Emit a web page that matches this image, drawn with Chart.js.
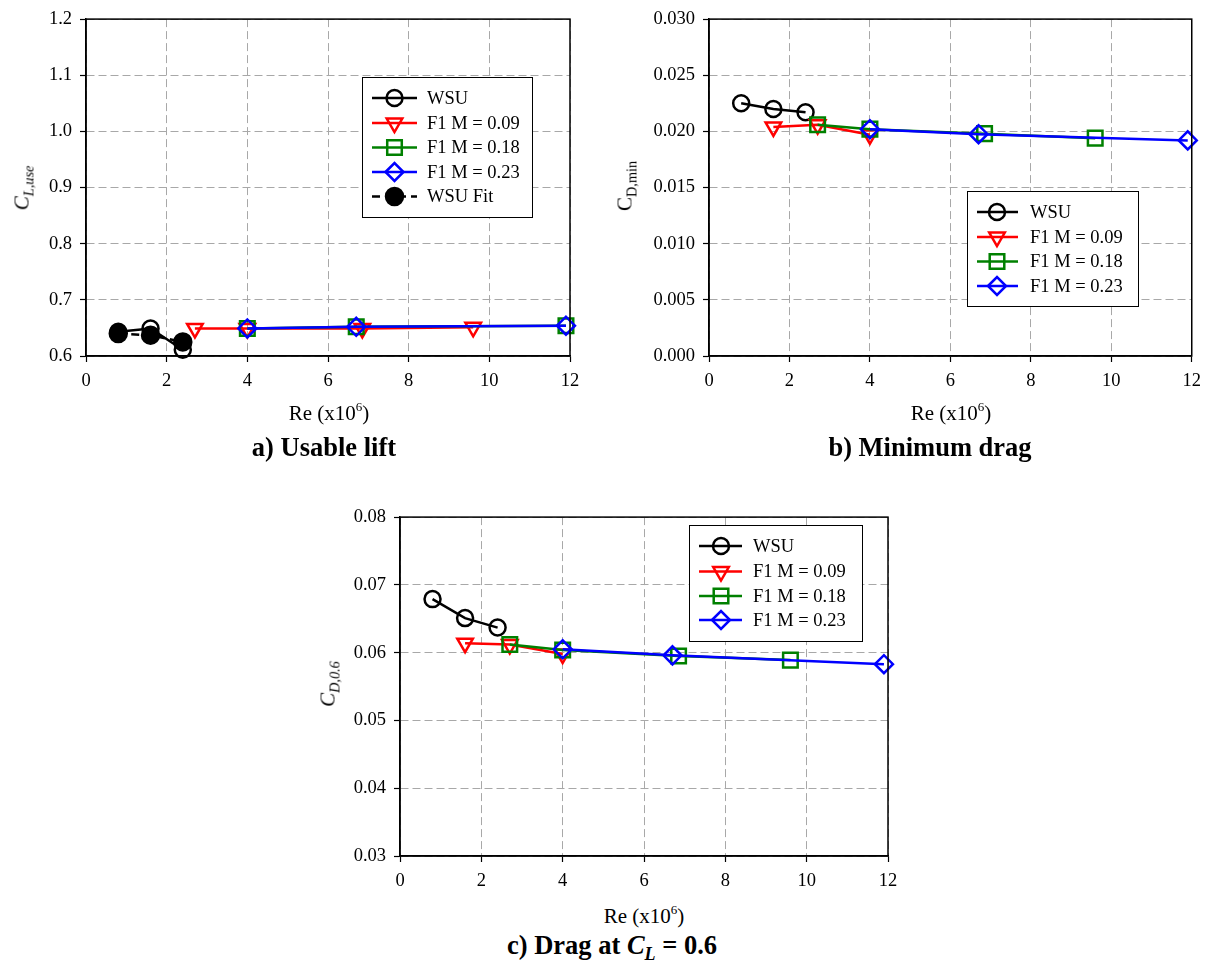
<!DOCTYPE html>
<html><head><meta charset="utf-8">
<script src="https://cdn.jsdelivr.net/npm/chart.js@4.4.0/dist/chart.umd.min.js"></script>
<style>
body{margin:0;background:#fff;}
#wrap{position:relative;width:1209px;height:962px;overflow:hidden;font-family:'Liberation Serif','Times New Roman',serif;color:#000;}
canvas{position:absolute;}
.t{position:absolute;transform:translate(-50%,-50%);white-space:nowrap;line-height:1;}
.xt{font-size:21px;}
.yt{font-size:21px;transform:translate(-50%,-50%) rotate(-90deg);}
.cap{font-size:26.5px;font-weight:bold;}
.t sup{font-size:0.62em;vertical-align:0.62em;line-height:0;}
.t sub{font-size:0.68em;vertical-align:-0.32em;line-height:0;}
</style></head>
<body><div id="wrap">
<canvas id="ca" width="600" height="400" style="left:0;top:0;width:600px;height:400px"></canvas>
<canvas id="cb" width="594" height="400" style="left:615px;top:0;width:594px;height:400px"></canvas>
<canvas id="cc" width="600" height="400" style="left:310px;top:498px;width:600px;height:400px"></canvas>

<div class="t xt" style="left:329px;top:413px">Re (x10<sup>6</sup>)</div>
<div class="t xt" style="left:951px;top:413px">Re (x10<sup>6</sup>)</div>
<div class="t xt" style="left:644px;top:916px">Re (x10<sup>6</sup>)</div>

<div class="t yt" style="left:22px;top:188px"><i>C<sub>L,use</sub></i></div>
<div class="t yt" style="left:625px;top:186px">C<sub>D,min</sub></div>
<div class="t yt" style="left:328px;top:684px"><i>C<sub>D,0.6</sub></i></div>

<div class="t cap" style="left:324px;top:447px">a) Usable lift</div>
<div class="t cap" style="left:930px;top:447px">b) Minimum drag</div>
<div class="t cap" style="left:612px;top:945px">c) Drag at <i>C<sub>L</sub></i> = 0.6</div>
</div>
<script>
// ---------- data ----------
const xTickVals = [0, 2, 4, 6, 8, 10, 12];
const xTickLabels = ['0', '2', '4', '6', '8', '10', '12'];
const seriesNames = ['WSU', 'F1 M = 0.09', 'F1 M = 0.18', 'F1 M = 0.23', 'WSU Fit'];

// a) Usable lift
const yTickValsA = [0.6, 0.7, 0.8, 0.9, 1.0, 1.1, 1.2];
const yTickLabelsA = ['0.6', '0.7', '0.8', '0.9', '1.0', '1.1', '1.2'];
const reWsuA = [0.8, 1.6, 2.4];
const clUseWsu = [0.643, 0.649, 0.611];
const reFitA = [0.8, 1.6, 2.4];
const clUseFit = [0.640, 0.637, 0.625];
const reM09A = [2.7, 4.0, 6.85, 9.6];
const clUseM09 = [0.649, 0.649, 0.649, 0.651];
const reM18A = [4.0, 6.7, 11.9];
const clUseM18 = [0.649, 0.652, 0.654];
const reM23A = [4.0, 6.7, 11.9];
const clUseM23 = [0.649, 0.652, 0.654];

// b) Minimum drag
const yTickValsB = [0, 0.005, 0.010, 0.015, 0.020, 0.025, 0.030];
const yTickLabelsB = ['0.000', '0.005', '0.010', '0.015', '0.020', '0.025', '0.030'];
const reWsuB = [0.8, 1.6, 2.4];
const cdMinWsu = [0.0225, 0.0220, 0.0217];
const reM09B = [1.6, 2.7, 4.0];
const cdMinM09 = [0.0204, 0.0206, 0.0197];
const reM18B = [2.7, 4.0, 6.85, 9.6];
const cdMinM18 = [0.0206, 0.0202, 0.0198, 0.0194];
const reM23B = [4.0, 6.7, 11.9];
const cdMinM23 = [0.0202, 0.01975, 0.0192];

// c) Drag at CL = 0.6
const yTickValsC = [0.03, 0.04, 0.05, 0.06, 0.07, 0.08];
const yTickLabelsC = ['0.03', '0.04', '0.05', '0.06', '0.07', '0.08'];
const reWsuC = [0.8, 1.6, 2.4];
const cd06Wsu = [0.0679, 0.0651, 0.0637];
const reM09C = [1.6, 2.7, 4.0];
const cd06M09 = [0.0614, 0.0612, 0.0598];
const reM18C = [2.7, 4.0, 6.85, 9.6];
const cd06M18 = [0.0612, 0.0604, 0.0595, 0.0589];
const reM23C = [4.0, 6.7, 11.9];
const cd06M23 = [0.0605, 0.0596, 0.0583];

// ---------- styles ----------
const ST = {
  wsu: {color: '#000000', shape: 'circle', r: 8, rot: 0, filled: false, dash: []},
  m09: {color: '#ff0000', shape: 'triangle', r: 9, rot: 180, filled: false, dash: []},
  m18: {color: '#008000', shape: 'rect', r: 10.3, rot: 0, filled: false, dash: []},
  m23: {color: '#0000ff', shape: 'rectRot', r: 9, rot: 0, filled: false, dash: []},
  fit: {color: '#000000', shape: 'circle', r: 8.5, rot: 0, filled: true, dash: [8, 5]}
};
const FONT = "'Liberation Serif','Times New Roman',serif";

function pts(xs, ys) { return xs.map((x, i) => ({x: x, y: ys[i]})); }
function ds(label, xs, ys, s) {
  return {
    label: label, data: pts(xs, ys), showLine: true, clip: false, tension: 0,
    borderColor: s.color, borderWidth: 2.5, borderDash: s.dash,
    backgroundColor: s.filled ? s.color : 'rgba(0,0,0,0)',
    pointStyle: s.shape, pointRadius: s.r, pointHoverRadius: s.r, pointRotation: s.rot,
    pointBorderColor: s.color, pointBorderWidth: 2.5,
    pointBackgroundColor: s.filled ? s.color : 'rgba(0,0,0,0)'
  };
}

function drawMarker(ctx, s, x, y) {
  ctx.save();
  ctx.setLineDash([]);
  ctx.lineWidth = 2.5;
  ctx.strokeStyle = s.color;
  ctx.fillStyle = s.color;
  ctx.beginPath();
  const r = s.r;
  if (s.shape === 'circle') {
    ctx.arc(x, y, r, 0, Math.PI * 2);
  } else if (s.shape === 'triangle') {
    const rad0 = s.rot * Math.PI / 180;
    for (let k = 0; k < 3; k++) {
      const a = rad0 + k * 2 * Math.PI / 3;
      const px = x + Math.sin(a) * r, py = y - Math.cos(a) * r;
      if (k === 0) ctx.moveTo(px, py); else ctx.lineTo(px, py);
    }
    ctx.closePath();
  } else if (s.shape === 'rect') {
    const h = r * Math.SQRT1_2;
    ctx.rect(x - h, y - h, 2 * h, 2 * h);
  } else if (s.shape === 'rectRot') {
    ctx.moveTo(x - r, y); ctx.lineTo(x, y - r); ctx.lineTo(x + r, y); ctx.lineTo(x, y + r); ctx.closePath();
  }
  if (s.filled) ctx.fill();
  ctx.stroke();
  ctx.restore();
}

function legendPlugin(id, box, rows, lineX0, lineX1, markX, textX, styles) {
  return {
    id: id,
    afterDraw(chart) {
      const ctx = chart.ctx;
      ctx.save();
      ctx.fillStyle = '#ffffff';
      ctx.fillRect(box[0], box[1], box[2] - box[0], box[3] - box[1]);
      ctx.strokeStyle = '#000000';
      ctx.lineWidth = 1;
      ctx.strokeRect(Math.round(box[0]) + 0.5, Math.round(box[1]) + 0.5, box[2] - box[0], box[3] - box[1]);
      ctx.font = '18.5px ' + FONT;
      ctx.textBaseline = 'middle';
      ctx.textAlign = 'left';
      rows.forEach((y, i) => {
        const s = styles[i];
        ctx.save();
        ctx.strokeStyle = s.color;
        ctx.lineWidth = 2.5;
        ctx.setLineDash(s.dash);
        ctx.beginPath();
        ctx.moveTo(lineX0, y); ctx.lineTo(lineX1, y);
        ctx.stroke();
        ctx.restore();
        drawMarker(ctx, s, markX, y);
        ctx.fillStyle = '#000000';
        ctx.fillText(seriesNames[i], textX, y + 1);
      });
      ctx.restore();
    }
  };
}

const framePlugin = {
  id: 'frame',
  afterDraw(chart) {
    const a = chart.chartArea, ctx = chart.ctx;
    ctx.save();
    ctx.strokeStyle = '#000000';
    ctx.lineWidth = 1.5;
    ctx.setLineDash([]);
    ctx.strokeRect(a.left, a.top, a.right - a.left, a.bottom - a.top);
    ctx.restore();
  }
};

function makeOptions(yVals, yLabels, yWidth, xHeight, pad) {
  return {
    responsive: false, animation: false, devicePixelRatio: 1,
    layout: {padding: pad},
    plugins: {legend: {display: false}, tooltip: {enabled: false}},
    events: [],
    scales: {
      x: {
        type: 'linear', min: xTickVals[0], max: xTickVals[xTickVals.length - 1],
        afterBuildTicks: s => { s.ticks = xTickVals.map(v => ({value: v})); },
        afterFit: s => { s.height = xHeight; },
        ticks: {font: {family: FONT, size: 18.5}, color: '#000', padding: 8, maxRotation: 0,
                callback: (v, i) => xTickLabels[i]},
        grid: {color: '#a8a8a8', lineWidth: 1, tickColor: '#000', tickLength: 6, tickWidth: 1.2},
        border: {display: true, color: '#000', width: 1.5, dash: [8, 4]}
      },
      y: {
        type: 'linear', min: yVals[0], max: yVals[yVals.length - 1],
        afterBuildTicks: s => { s.ticks = yVals.map(v => ({value: v})); },
        afterFit: s => { s.width = yWidth; },
        ticks: {font: {family: FONT, size: 18.5}, color: '#000', padding: 8,
                callback: (v, i) => yLabels[i]},
        grid: {color: '#a8a8a8', lineWidth: 1, tickColor: '#000', tickLength: 6, tickWidth: 1.2},
        border: {display: true, color: '#000', width: 1.5, dash: [8, 4]}
      }
    }
  };
}

// chart a
new Chart(document.getElementById('ca'), {
  type: 'scatter',
  data: {datasets: [
    ds(seriesNames[4], reFitA, clUseFit, ST.fit),
    ds(seriesNames[3], reM23A, clUseM23, ST.m23),
    ds(seriesNames[2], reM18A, clUseM18, ST.m18),
    ds(seriesNames[1], reM09A, clUseM09, ST.m09),
    ds(seriesNames[0], reWsuA, clUseWsu, ST.wsu)
  ]},
  options: makeOptions(yTickValsA, yTickLabelsA, 86, 44, {top: 16, right: 30, left: 0, bottom: 0}),
  plugins: [framePlugin, legendPlugin('lga', [362, 77, 532, 217], [98, 123, 147.5, 172, 196.5], 372, 417, 394.5, 427,
    [ST.wsu, ST.m09, ST.m18, ST.m23, ST.fit])]
});

// chart b
new Chart(document.getElementById('cb'), {
  type: 'scatter',
  data: {datasets: [
    ds(seriesNames[3], reM23B, cdMinM23, ST.m23),
    ds(seriesNames[2], reM18B, cdMinM18, ST.m18),
    ds(seriesNames[1], reM09B, cdMinM09, ST.m09),
    ds(seriesNames[0], reWsuB, cdMinWsu, ST.wsu)
  ]},
  options: makeOptions(yTickValsB, yTickLabelsB, 94, 44, {top: 15, right: 15, left: 0, bottom: 0}),
  plugins: [framePlugin, legendPlugin('lgb', [352, 191, 523, 306], [212, 237, 261.5, 286], 362, 403, 382, 415,
    [ST.wsu, ST.m09, ST.m18, ST.m23])]
});

// chart c
new Chart(document.getElementById('cc'), {
  type: 'scatter',
  data: {datasets: [
    ds(seriesNames[3], reM23C, cd06M23, ST.m23),
    ds(seriesNames[2], reM18C, cd06M18, ST.m18),
    ds(seriesNames[1], reM09C, cd06M09, ST.m09),
    ds(seriesNames[0], reWsuC, cd06Wsu, ST.wsu)
  ]},
  options: makeOptions(yTickValsC, yTickLabelsC, 90, 42, {top: 16, right: 22, left: 0, bottom: 0}),
  plugins: [framePlugin, legendPlugin('lgc', [379, 27, 552, 143], [48, 73.5, 98, 122], 389, 432, 411, 443,
    [ST.wsu, ST.m09, ST.m18, ST.m23])]
});
</script>
</body></html>
